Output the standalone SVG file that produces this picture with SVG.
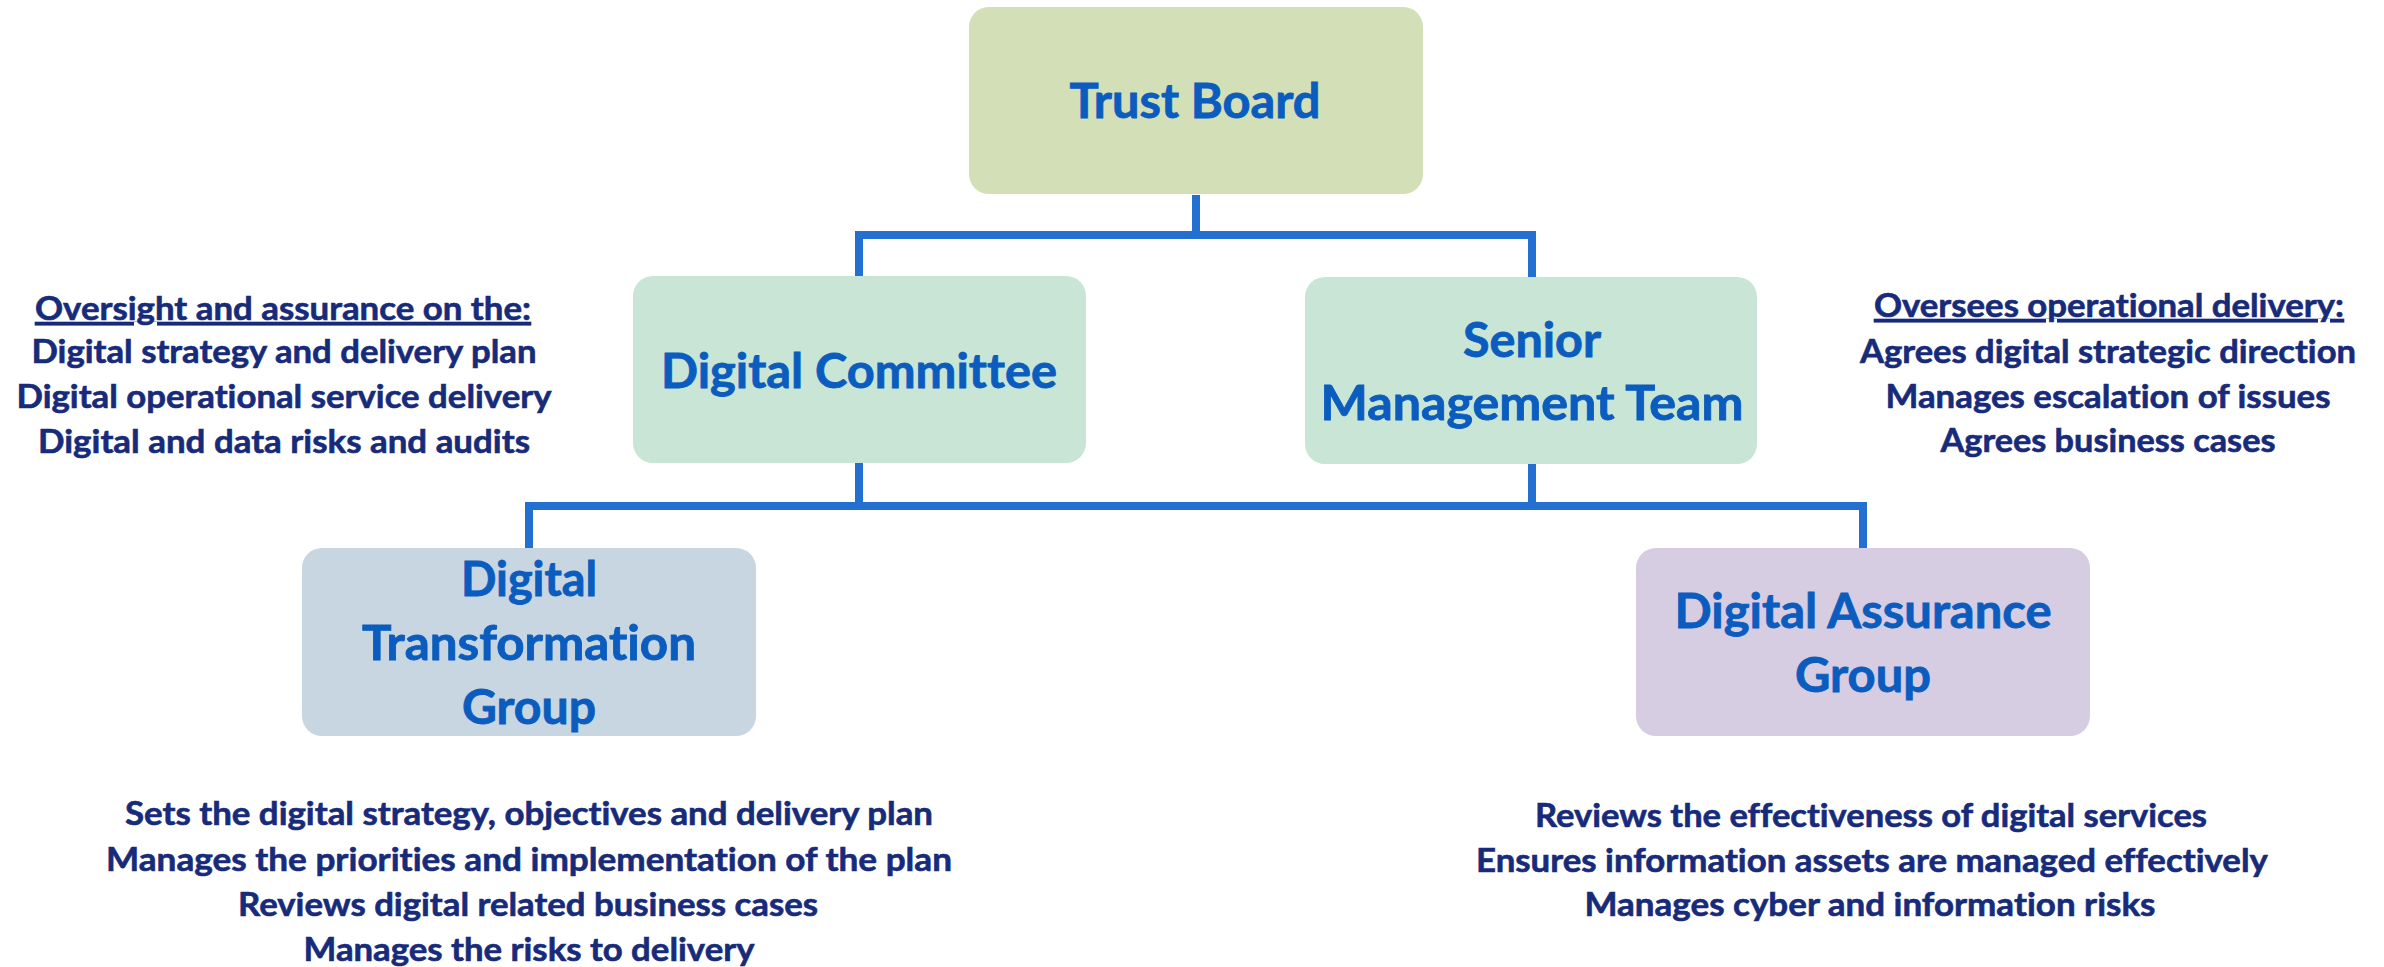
<svg xmlns="http://www.w3.org/2000/svg" width="2384" height="967" viewBox="0 0 2384 967">
  <style>
    text { font-variant-ligatures: none; font-feature-settings: "liga" 0, "clig" 0; }
    .box-label { font-family: Lato, "Open Sans", "Liberation Sans", sans-serif; font-weight: 700; font-size: 47px; fill: #0a5cbe; stroke: #0a5cbe; stroke-width: 0.8; text-anchor: middle; }
    .note { font-family: Lato, "Open Sans", "Liberation Sans", sans-serif; font-weight: 700; font-size: 32px; fill: #172b7a; stroke: #172b7a; stroke-width: 0.6; text-anchor: middle; }
    .note-head { text-decoration: underline; }
    .link { fill: none; stroke: #2370d0; stroke-width: 8; stroke-linejoin: miter; stroke-linecap: butt; }
  </style>
  <rect width="2384" height="967" fill="#ffffff"/>

  <!-- connectors -->
  <g id="connectors">
    <path class="link" d="M1196 195 V235"/>
    <path class="link" d="M859 277 V235 H1532 V278"/>
    <path class="link" d="M859 463 V506"/>
    <path class="link" d="M1532 464 V506"/>
    <path class="link" d="M529 549 V506 H1863 V549"/>
  </g>

  <!-- nodes -->
  <g id="trust-board">
    <rect x="969" y="7" width="454" height="187" rx="20" fill="#d3dfb7"/>
    <text class="box-label" x="1195" y="118" textLength="251" lengthAdjust="spacingAndGlyphs">Trust Board</text>
  </g>

  <g id="digital-committee">
    <rect x="633" y="276" width="453" height="187" rx="20" fill="#c9e5d5"/>
    <text class="box-label" x="859" y="388" textLength="396" lengthAdjust="spacingAndGlyphs">Digital Committee</text>
  </g>

  <g id="senior-management-team">
    <rect x="1305" y="277" width="452" height="187" rx="20" fill="#c9e5d5"/>
    <text class="box-label" x="1532" y="357" textLength="138" lengthAdjust="spacingAndGlyphs">Senior</text>
    <text class="box-label" x="1532" y="420" textLength="423" lengthAdjust="spacingAndGlyphs">Management Team</text>
  </g>

  <g id="digital-transformation-group">
    <rect x="302" y="548" width="454" height="188" rx="20" fill="#c8d6e2"/>
    <text class="box-label" x="529" y="596" textLength="136" lengthAdjust="spacingAndGlyphs">Digital</text>
    <text class="box-label" x="529" y="660" textLength="334" lengthAdjust="spacingAndGlyphs">Transformation</text>
    <text class="box-label" x="529" y="724" textLength="134" lengthAdjust="spacingAndGlyphs">Group</text>
  </g>

  <g id="digital-assurance-group">
    <rect x="1636" y="548" width="454" height="188" rx="20" fill="#d7cde3"/>
    <text class="box-label" x="1863" y="628" textLength="377" lengthAdjust="spacingAndGlyphs">Digital Assurance</text>
    <text class="box-label" x="1863" y="692" textLength="136" lengthAdjust="spacingAndGlyphs">Group</text>
  </g>

  <!-- role descriptions -->
  <g id="committee-notes">
    <text class="note note-head" x="283" y="320" textLength="496" lengthAdjust="spacingAndGlyphs">Oversight and assurance on the:</text>
    <text class="note" x="284" y="363" textLength="505" lengthAdjust="spacingAndGlyphs">Digital strategy and delivery plan</text>
    <text class="note" x="284" y="408" textLength="535" lengthAdjust="spacingAndGlyphs">Digital operational service delivery</text>
    <text class="note" x="284" y="453" textLength="492" lengthAdjust="spacingAndGlyphs">Digital and data risks and audits</text>
  </g>

  <g id="smt-notes">
    <text class="note note-head" x="2109" y="317" textLength="470" lengthAdjust="spacingAndGlyphs">Oversees operational delivery:</text>
    <text class="note" x="2108" y="363" textLength="496" lengthAdjust="spacingAndGlyphs">Agrees digital strategic direction</text>
    <text class="note" x="2108" y="408" textLength="445" lengthAdjust="spacingAndGlyphs">Manages escalation of issues</text>
    <text class="note" x="2108" y="452" textLength="335" lengthAdjust="spacingAndGlyphs">Agrees business cases</text>
  </g>

  <g id="transformation-notes">
    <text class="note" x="529" y="825" textLength="808" lengthAdjust="spacingAndGlyphs">Sets the digital strategy, objectives and delivery plan</text>
    <text class="note" x="529" y="871" textLength="846" lengthAdjust="spacingAndGlyphs">Manages the priorities and implementation of the plan</text>
    <text class="note" x="528" y="916" textLength="580" lengthAdjust="spacingAndGlyphs">Reviews digital related business cases</text>
    <text class="note" x="529" y="961" textLength="451" lengthAdjust="spacingAndGlyphs">Manages the risks to delivery</text>
  </g>

  <g id="assurance-notes">
    <text class="note" x="1871" y="827" textLength="672" lengthAdjust="spacingAndGlyphs">Reviews the effectiveness of digital services</text>
    <text class="note" x="1872" y="872" textLength="792" lengthAdjust="spacingAndGlyphs">Ensures information assets are managed effectively</text>
    <text class="note" x="1870" y="916" textLength="571" lengthAdjust="spacingAndGlyphs">Manages cyber and information risks</text>
  </g>
</svg>
